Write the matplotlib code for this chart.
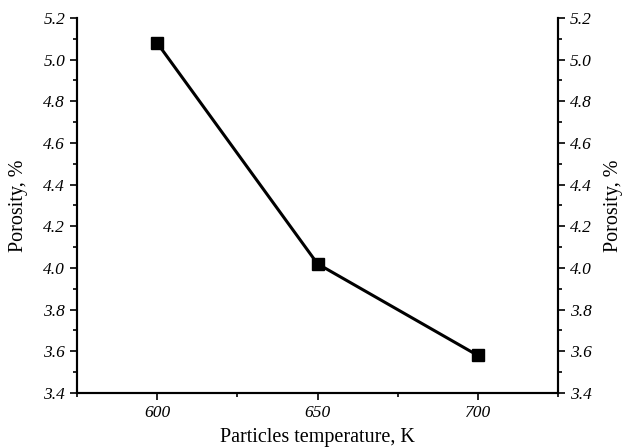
import matplotlib.pyplot as plt
from matplotlib.ticker import MultipleLocator, FormatStrFormatter

temperature = [600, 650, 700]
porosity = [5.08, 4.02, 3.58]

plt.rcParams['font.family'] = 'Liberation Serif'

fig = plt.figure(figsize=(6.27, 4.48), dpi=100)
ax = fig.add_axes([0.1228, 0.1228, 0.7672, 0.8372])
ax.plot(temperature, porosity, color='black', linewidth=2.2,
        marker='s', markersize=8, markerfacecolor='black', markeredgecolor='black')

ax.set_xlim(575, 725)
ax.set_ylim(3.4, 5.2)
ax.xaxis.set_major_locator(MultipleLocator(50))
ax.xaxis.set_minor_locator(MultipleLocator(25))

ax2 = ax.twinx()
ax2.set_ylim(ax.get_ylim())

for a in (ax, ax2):
    a.yaxis.set_major_locator(MultipleLocator(0.2))
    a.yaxis.set_minor_locator(MultipleLocator(0.1))
    a.yaxis.set_major_formatter(FormatStrFormatter('%.1f'))
    a.spines['top'].set_visible(False)
    for s in ['left', 'right', 'bottom']:
        a.spines[s].set_linewidth(1.5)
    a.tick_params(which='both', direction='out', width=1.2)
    a.tick_params(which='major', length=5, labelsize=12.5)
    a.tick_params(which='minor', length=3)
    for lab in a.get_xticklabels() + a.get_yticklabels():
        lab.set_fontstyle('italic')

ax.set_xlabel('Particles temperature, K', fontsize=14.5, labelpad=5)
ax.set_ylabel('Porosity, %', fontsize=14.5, labelpad=11)
ax2.set_ylabel('Porosity, %', fontsize=14.5, labelpad=9)

fig.savefig('out.png', dpi=100)
